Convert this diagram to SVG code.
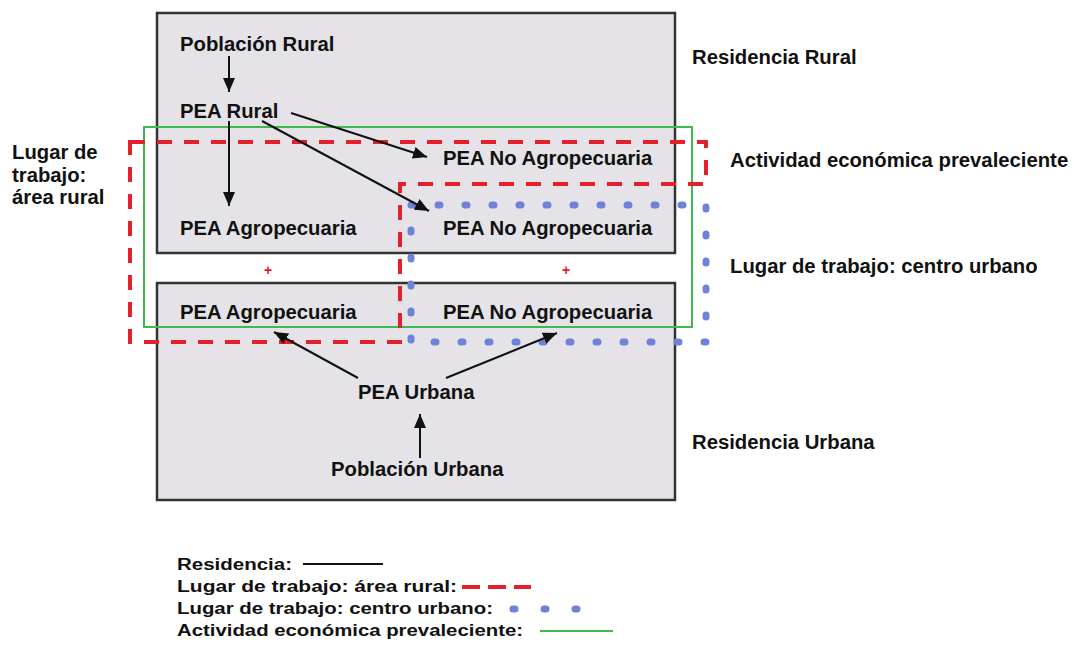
<svg xmlns="http://www.w3.org/2000/svg" width="1079" height="646" viewBox="0 0 1079 646">
<defs>
<style>
.box{fill:#e5e3e7;stroke:#333;stroke-width:2.5}
.t{font-family:"Liberation Sans",Arial,sans-serif;font-weight:bold;font-size:20.3px;fill:#111}
.lg{font-family:"Liberation Sans",Arial,sans-serif;font-weight:bold;font-size:16px;fill:#111}
.red{fill:none;stroke:#e3202b;stroke-width:4;stroke-dasharray:15 12}
.blue{fill:none;stroke:#6e82d8;stroke-width:7;stroke-linecap:round;stroke-dasharray:2 25}
.green{fill:none;stroke:#3dba4b;stroke-width:2}
.arr{stroke:#111;stroke-width:2;fill:none;marker-end:url(#ah)}
.plus{font-family:"Liberation Sans",Arial,sans-serif;font-weight:bold;font-size:14px;fill:#e3202b}
</style>
<marker id="ah" viewBox="0 0 14 12" refX="14" refY="6" markerWidth="14" markerHeight="12" markerUnits="userSpaceOnUse" orient="auto">
<path d="M0,0 L14,6 L0,12 Z" fill="#111"/>
</marker>
</defs>
<rect width="1079" height="646" fill="#fff"/>
<g id="residencia-rural">
<rect class="box" x="157" y="13" width="518" height="240"/>
</g>
<g id="residencia-urbana">
<rect class="box" x="157" y="283" width="518" height="217"/>
</g>
<g id="actividad-economica">
<rect class="green" x="144" y="127" width="548" height="200"/>
</g>
<g id="lugar-area-rural">
<path class="red" d="M130,142 H706 V184 H400 V342 H130 Z"/>
</g>
<g id="lugar-centro-urbano">
<path class="blue" d="M411,205 H706 V342 H411 Z"/>
</g>
<g id="nodes">
<g id="poblacion-rural"><text class="t" x="180" y="51">Población Rural</text></g>
<g id="pea-rural"><text class="t" x="180" y="118">PEA Rural</text></g>
<g id="pea-no-agro-1"><text class="t" x="443" y="165">PEA No Agropecuaria</text></g>
<g id="pea-agro-r"><text class="t" x="180" y="235">PEA Agropecuaria</text></g>
<g id="pea-no-agro-2"><text class="t" x="443" y="235">PEA No Agropecuaria</text></g>
<g id="pea-agro-u"><text class="t" x="180" y="319">PEA Agropecuaria</text></g>
<g id="pea-no-agro-u"><text class="t" x="443" y="319">PEA No Agropecuaria</text></g>
<g id="pea-urbana"><text class="t" x="358" y="399">PEA Urbana</text></g>
<g id="poblacion-urbana"><text class="t" x="331" y="476">Población Urbana</text></g>
</g>
<g id="plus-signs">
<text class="plus" x="268" y="275" text-anchor="middle">+</text>
<text class="plus" x="566" y="275" text-anchor="middle">+</text>
</g>
<g id="labels">
<text class="t" x="692" y="64">Residencia Rural</text>
<text class="t" x="730" y="167">Actividad económica prevaleciente</text>
<text class="t" x="730" y="273">Lugar de trabajo: centro urbano</text>
<text class="t" x="692" y="449">Residencia Urbana</text>
<text class="t" x="12" y="159">Lugar de</text>
<text class="t" x="12" y="182">trabajo:</text>
<text class="t" x="12" y="204">área rural</text>
</g>
<g id="connectors">
<line class="arr" x1="229" y1="56" x2="229" y2="92"/>
<line class="arr" x1="229" y1="121" x2="229" y2="206"/>
<line class="arr" x1="291" y1="113" x2="427" y2="157"/>
<line class="arr" x1="262" y1="121" x2="429" y2="211"/>
<line class="arr" x1="358" y1="378" x2="274" y2="332"/>
<line class="arr" x1="446" y1="378" x2="557" y2="333"/>
<line class="arr" x1="420" y1="458" x2="420" y2="414"/>
</g>
<g id="legend">
<text class="lg" x="177" y="570" textLength="115" lengthAdjust="spacingAndGlyphs">Residencia:</text>
<line x1="303" y1="564" x2="383" y2="564" stroke="#111" stroke-width="2"/>
<text class="lg" x="177" y="592" textLength="280" lengthAdjust="spacingAndGlyphs">Lugar de trabajo: área rural:</text>
<line x1="462" y1="587" x2="531" y2="587" stroke="#e3202b" stroke-width="4" stroke-dasharray="18 8"/>
<text class="lg" x="177" y="614" textLength="316" lengthAdjust="spacingAndGlyphs">Lugar de trabajo: centro urbano:</text>
<line x1="513" y1="609" x2="578" y2="609" stroke="#6e82d8" stroke-width="7" stroke-linecap="round" stroke-dasharray="2 29"/>
<text class="lg" x="177" y="636" textLength="346" lengthAdjust="spacingAndGlyphs">Actividad económica prevaleciente:</text>
<line x1="540" y1="631" x2="613" y2="631" stroke="#3dba4b" stroke-width="2"/>
</g>
</svg>
